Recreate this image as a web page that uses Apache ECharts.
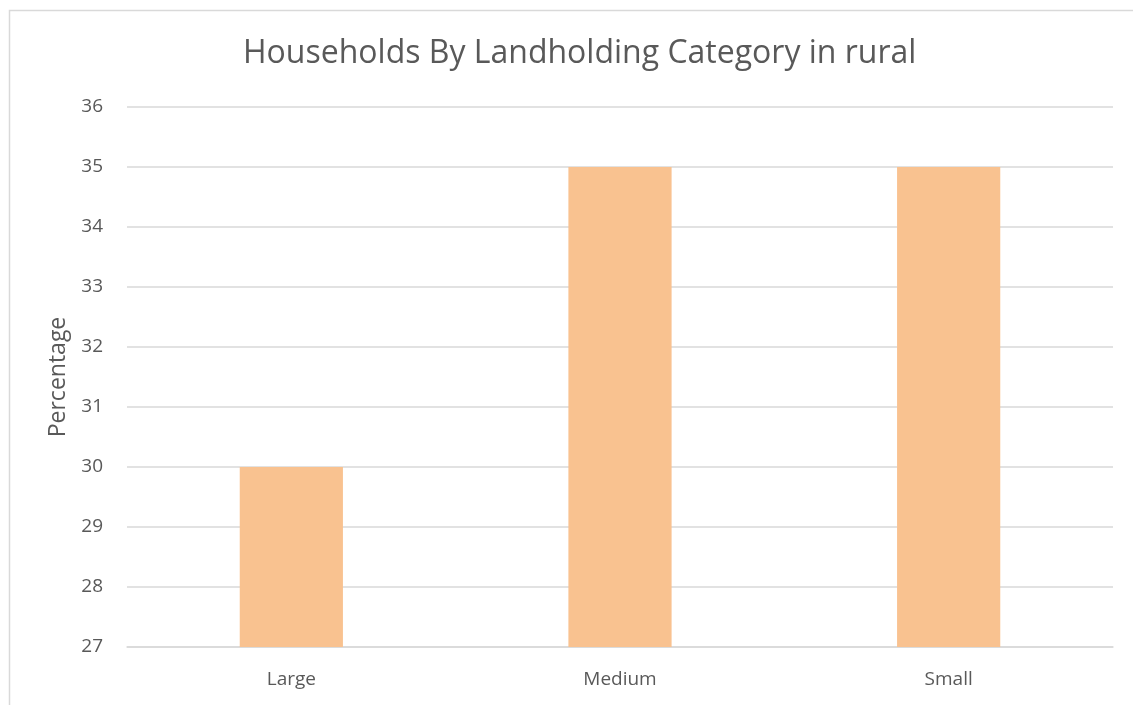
<!DOCTYPE html>
<html>
<head>
<meta charset="utf-8">
<script src="https://cdn.jsdelivr.net/npm/echarts@6/dist/echarts.min.js"></script>
<style>
  html, body { margin: 0; padding: 0; background: #ffffff; }
  #chart { width: 1133px; height: 705px; }
</style>
</head>
<body>
<div id="chart"></div>
<script>
// Landholding categories and share of households (%)
const categories = ['Large', 'Medium', 'Small'];
const percentages = [30, 35, 35];
const yTicks = { min: 27, max: 36, interval: 1 };

const chart = echarts.init(document.getElementById('chart'), null, { renderer: 'canvas' });
const textColor = '#595959';
const fontFamily = '"Open Sans", "Noto Sans", sans-serif';

chart.setOption({
  animation: false,
  backgroundColor: '#ffffff',
  graphic: [{
    type: 'rect',
    left: 7, top: 8,
    shape: { width: 1140, height: 720 },
    style: { fill: 'none', stroke: '#d9d9d9', lineWidth: 1.5 },
    silent: true,
    z: -1
  }],
  title: {
    text: 'Households By Landholding Category in rural',
    left: 238,
    top: 33,
    textStyle: { color: textColor, fontSize: 32, fontWeight: 'normal', fontFamily: fontFamily }
  },
  grid: { left: 127, right: 20, top: 107, bottom: 58, containLabel: false },
  xAxis: {
    type: 'category',
    data: categories,
    axisLine: { show: true, lineStyle: { color: '#d9d9d9', width: 1.5 } },
    axisTick: { show: false },
    axisLabel: { color: textColor, fontSize: 19, fontFamily: fontFamily, margin: 23 }
  },
  yAxis: {
    type: 'value',
    min: yTicks.min,
    max: yTicks.max,
    interval: yTicks.interval,
    name: 'Percentage',
    nameLocation: 'middle',
    nameGap: 54,
    nameRotate: 90,
    nameTextStyle: { color: textColor, fontSize: 23, fontFamily: fontFamily },
    axisLine: { show: false },
    axisTick: { show: false },
    axisLabel: { color: textColor, fontSize: 19, fontFamily: fontFamily, margin: 24 },
    splitLine: { lineStyle: { color: '#d9d9d9', width: 1.5 } }
  },
  series: [{
    type: 'bar',
    data: percentages,
    barWidth: '31.4%',
    itemStyle: { color: '#f9c290' }
  }]
});
</script>
</body>
</html>
